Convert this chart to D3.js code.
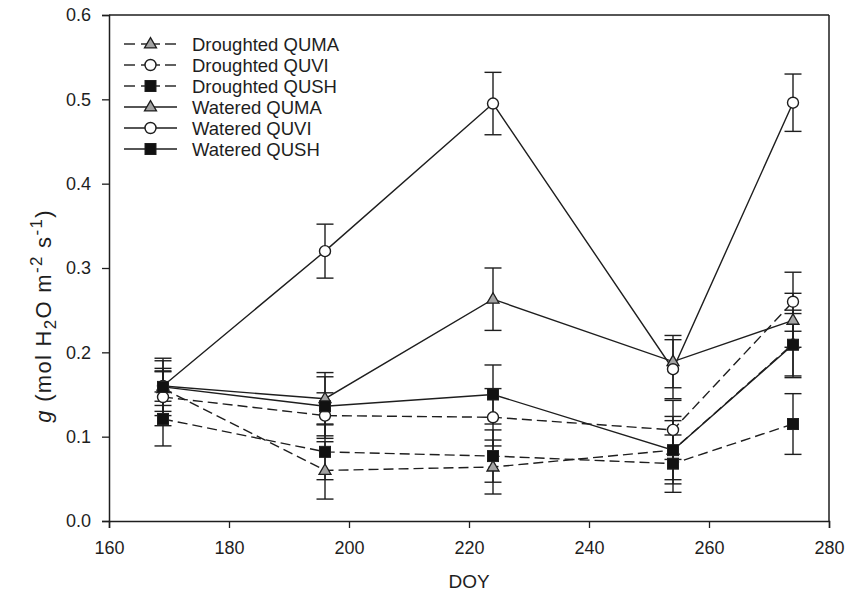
<!DOCTYPE html>
<html>
<head>
<meta charset="utf-8">
<script src="https://cdn.jsdelivr.net/npm/d3@7/dist/d3.min.js"></script>
<style>
  body { margin: 0; background: #fff; }
  svg { display: block; }
  text { font-family: Arial, "Liberation Sans", sans-serif; fill: #1e1e1e; }
</style>
</head>
<body>
<svg id="chart" width="845" height="597"></svg>
<script>
// Day of year of each measurement campaign
const doy = [169, 196, 224, 254, 274];

// Stomatal conductance g (mol H2O m-2 s-1), means and error half-widths
const droughtedQUMA    = [0.157, 0.060, 0.064, 0.084, 0.210];
const droughtedQUMAErr = [0.020, 0.034, 0.032, 0.040, 0.040];
const droughtedQUVI    = [0.147, 0.125, 0.123, 0.108, 0.260];
const droughtedQUVIErr = [0.034, 0.027, 0.034, 0.035, 0.035];
const droughtedQUSH    = [0.121, 0.082, 0.077, 0.068, 0.115];
const droughtedQUSHErr = [0.032, 0.033, 0.031, 0.034, 0.036];
const wateredQUMA      = [0.160, 0.145, 0.263, 0.189, 0.238];
const wateredQUMAErr   = [0.018, 0.031, 0.037, 0.031, 0.032];
const wateredQUVI      = [0.160, 0.320, 0.495, 0.180, 0.496];
const wateredQUVIErr   = [0.030, 0.032, 0.037, 0.035, 0.034];
const wateredQUSH      = [0.159, 0.136, 0.150, 0.084, 0.209];
const wateredQUSHErr   = [0.034, 0.035, 0.035, 0.035, 0.037];

const seriesNames = ["Droughted QUMA", "Droughted QUVI", "Droughted QUSH",
                     "Watered QUMA", "Watered QUVI", "Watered QUSH"];

const xTicks = [160, 180, 200, 220, 240, 260, 280];
const yTicks = [0.0, 0.1, 0.2, 0.3, 0.4, 0.5, 0.6];

// Series table built from the arrays above
const series = [
  { name: seriesNames[0], values: droughtedQUMA, err: droughtedQUMAErr, dashed: true,  marker: "triangle" },
  { name: seriesNames[1], values: droughtedQUVI, err: droughtedQUVIErr, dashed: true,  marker: "circle" },
  { name: seriesNames[2], values: droughtedQUSH, err: droughtedQUSHErr, dashed: true,  marker: "square" },
  { name: seriesNames[3], values: wateredQUMA,   err: wateredQUMAErr,   dashed: false, marker: "triangle" },
  { name: seriesNames[4], values: wateredQUVI,   err: wateredQUVIErr,   dashed: false, marker: "circle" },
  { name: seriesNames[5], values: wateredQUSH,   err: wateredQUSHErr,   dashed: false, marker: "square" }
];

const ink = "#1e1e1e";
const dash = "10,5";
const svg = d3.select("#chart");

const plotLeft = 109, plotRight = 829, plotTop = 15, plotBottom = 521;
const x = d3.scaleLinear().domain([160, 280]).range([plotLeft, plotRight]);
const y = d3.scaleLinear().domain([0, 0.6]).range([plotBottom, plotTop]);

// Frame: top and right edges
svg.append("line").attr("x1", plotLeft).attr("x2", plotRight).attr("y1", plotTop).attr("y2", plotTop)
  .attr("stroke", ink).attr("stroke-width", 1.5);
svg.append("line").attr("x1", plotRight).attr("x2", plotRight).attr("y1", plotTop).attr("y2", plotBottom)
  .attr("stroke", ink).attr("stroke-width", 1.5);

// Axes
const xAxis = svg.append("g").attr("transform", `translate(0,${plotBottom})`)
  .call(d3.axisBottom(x).tickValues(xTicks).tickFormat(d3.format("d")).tickSizeOuter(0).tickSize(7).tickPadding(13));
const yAxis = svg.append("g").attr("transform", `translate(${plotLeft},0)`)
  .call(d3.axisLeft(y).tickValues(yTicks).tickFormat(d3.format(".1f")).tickSizeOuter(0).tickSize(7).tickPadding(11));
[xAxis, yAxis].forEach(a => {
  a.select(".domain").attr("stroke", ink).attr("stroke-width", 1.5);
  a.selectAll(".tick line").attr("stroke", ink).attr("stroke-width", 1.3);
  a.selectAll(".tick text").attr("font-size", 18).attr("fill", ink)
    .style("font-family", "Arial, 'Liberation Sans', sans-serif");
});

// Axis titles
svg.append("text").attr("x", (plotLeft + plotRight) / 2).attr("y", 588)
  .attr("text-anchor", "middle").attr("font-size", 19).text("DOY");

const yTitle = svg.append("text")
  .attr("transform", "translate(51,316) rotate(-90)")
  .attr("text-anchor", "middle").attr("font-size", 22)
  .attr("letter-spacing", 1.3);
yTitle.append("tspan").attr("font-style", "italic").text("g");
yTitle.append("tspan").text(" (mol H");
yTitle.append("tspan").attr("font-size", 17).attr("dy", 5).text("2");
yTitle.append("tspan").attr("dy", -5).text("O m");
yTitle.append("tspan").attr("font-size", 17).attr("dy", -9).text("-2");
yTitle.append("tspan").attr("dy", 9).text(" s");
yTitle.append("tspan").attr("font-size", 17).attr("dy", -9).text("-1");
yTitle.append("tspan").attr("dy", 9).text(")");

// Marker drawing helper
function drawMarker(g, type, cx, cy) {
  if (type === "circle") {
    g.append("circle").attr("cx", cx).attr("cy", cy).attr("r", 5.5)
      .attr("fill", "#fff").attr("stroke", ink).attr("stroke-width", 1.4);
  } else if (type === "square") {
    g.append("rect").attr("x", cx - 5.5).attr("y", cy - 5.5).attr("width", 11).attr("height", 11)
      .attr("fill", "#111").attr("stroke", ink).attr("stroke-width", 1);
  } else {
    const s = 12, h = s * Math.sqrt(3) / 2;
    g.append("path")
      .attr("d", `M${cx},${cy - h * 0.62}L${cx + s / 2},${cy + h * 0.38}L${cx - s / 2},${cy + h * 0.38}Z`)
      .attr("fill", "#a3a3a3").attr("stroke", ink).attr("stroke-width", 1.3);
  }
}

const plot = svg.append("g");
const line = d3.line().x((d, i) => x(doy[i])).y(d => y(d));

// Error bars
series.forEach(s => {
  const g = plot.append("g");
  s.values.forEach((v, i) => {
    const cx = x(doy[i]);
    const lo = y(v - s.err[i]), hi = y(v + s.err[i]);
    g.append("line").attr("x1", cx).attr("x2", cx).attr("y1", lo).attr("y2", hi)
      .attr("stroke", ink).attr("stroke-width", 1.4);
    [lo, hi].forEach(yy => g.append("line")
      .attr("x1", cx - 8.5).attr("x2", cx + 8.5).attr("y1", yy).attr("y2", yy)
      .attr("stroke", ink).attr("stroke-width", 1.4));
  });
});

// Lines
series.forEach(s => {
  plot.append("path").datum(s.values).attr("d", line)
    .attr("fill", "none").attr("stroke", ink).attr("stroke-width", 1.4)
    .attr("stroke-dasharray", s.dashed ? dash : null);
});

// Markers
series.forEach(s => {
  const g = plot.append("g");
  s.values.forEach((v, i) => drawMarker(g, s.marker, x(doy[i]), y(v)));
});

// Legend
const legend = svg.append("g");
series.forEach((s, i) => {
  const ly = 44 + i * 21;
  const row = legend.append("g");
  if (s.dashed) {
    row.append("line").attr("x1", 124).attr("x2", 135).attr("y1", ly).attr("y2", ly)
      .attr("stroke", ink).attr("stroke-width", 1.4);
    row.append("line").attr("x1", 141).attr("x2", 160).attr("y1", ly).attr("y2", ly)
      .attr("stroke", ink).attr("stroke-width", 1.4);
    row.append("line").attr("x1", 165).attr("x2", 176).attr("y1", ly).attr("y2", ly)
      .attr("stroke", ink).attr("stroke-width", 1.4);
  } else {
    row.append("line").attr("x1", 124).attr("x2", 177).attr("y1", ly).attr("y2", ly)
      .attr("stroke", ink).attr("stroke-width", 1.4);
  }
  drawMarker(row, s.marker, 150.5, ly);
  row.append("text").attr("x", 192).attr("y", ly + 6.5).attr("font-size", 18.5).text(s.name);
});
</script>
</body>
</html>
